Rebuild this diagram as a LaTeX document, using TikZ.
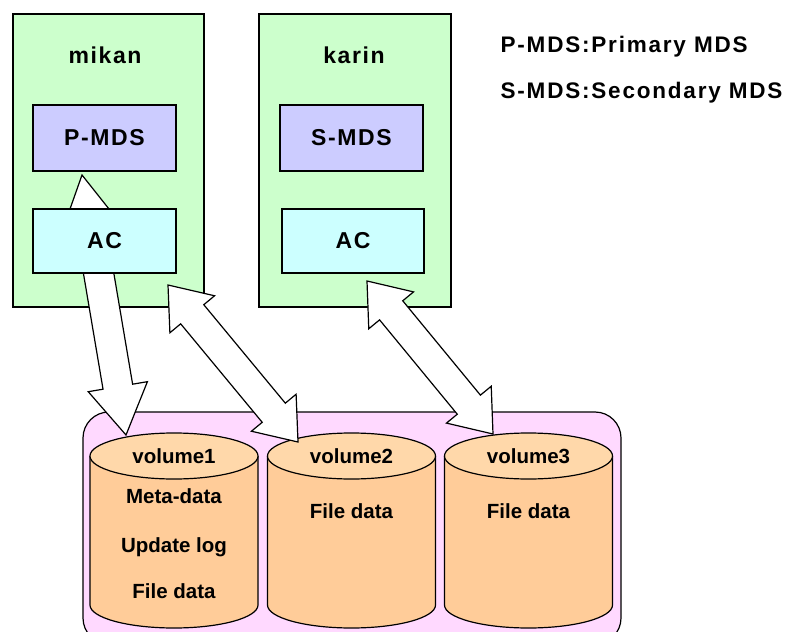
\documentclass[tikz,border=0pt]{standalone}
\usepackage{fontspec}
\setmainfont{Liberation Sans}
\newfontfamily\spacedfont[LetterSpace=7]{Liberation Sans}
\newfontfamily\legendfont[LetterSpace=8]{Liberation Sans}
\usetikzlibrary{calc}
\definecolor{hostgreen}{HTML}{CCFFCC}
\definecolor{mdsblue}{HTML}{CCCCFF}
\definecolor{accyan}{HTML}{CCFFFF}
\definecolor{poolpink}{HTML}{FFD9FF}
\definecolor{cylbodycol}{HTML}{FFCC99}
\definecolor{cyltopcol}{HTML}{FFD8AA}

\newcommand\volcyl[2]{%
  \fill[cylbodycol] (#2-84,456) -- (#2-84,605) arc[start angle=180,end angle=360,x radius=84bp,y radius=23bp] -- (#2+84,456) -- cycle;
  \draw (#2-84,456) -- (#2-84,605) arc[start angle=180,end angle=360,x radius=84bp,y radius=23bp] -- (#2+84,456);
  \filldraw[fill=cyltopcol] (#2,456) ellipse[x radius=84bp,y radius=23bp];
  \coordinate (#1) at (#2,456);}

\newcommand\dblarrow[2]{%
  \draw[blockarr] (#1)
  -- ($(#1)!38bp!(#2)!29bp!90:(#2)$)
  -- ($(#1)!38bp!(#2)!15bp!90:(#2)$)
  -- ($(#2)!38bp!(#1)!15bp!-90:(#1)$)
  -- ($(#2)!38bp!(#1)!29bp!-90:(#1)$)
  -- (#2)
  -- ($(#2)!38bp!(#1)!29bp!90:(#1)$)
  -- ($(#2)!38bp!(#1)!15bp!90:(#1)$)
  -- ($(#1)!38bp!(#2)!15bp!-90:(#2)$)
  -- ($(#1)!38bp!(#2)!29bp!-90:(#2)$)
  -- cycle;}

\newcommand\sglarrow[2]{%
  \draw[blockarr] ($(#1)!15bp!90:(#2)$)
  -- ($(#2)!49bp!(#1)!15bp!-90:(#1)$)
  -- ($(#2)!49bp!(#1)!30bp!-90:(#1)$)
  -- (#2)
  -- ($(#2)!49bp!(#1)!30bp!90:(#1)$)
  -- ($(#2)!49bp!(#1)!15bp!90:(#1)$)
  -- ($(#1)!15bp!-90:(#2)$)
  -- cycle;}

\begin{document}
\begin{tikzpicture}[x=1bp,y=-1bp,line width=1.2bp,
  hostbox/.style={draw=black,fill=hostgreen,inner sep=0pt,outer sep=0pt,minimum height=293bp,anchor=north west},
  mdsbox/.style={draw=black,fill=mdsblue,inner sep=0pt,outer sep=0pt,minimum width=143bp,minimum height=66bp,anchor=north west},
  acbox/.style={draw=black,fill=accyan,inner sep=0pt,outer sep=0pt,minimum width=143bp,minimum height=64bp,anchor=north west},
  poolbox/.style={draw=black,fill=poolpink,rounded corners=26bp,inner sep=0pt,outer sep=0pt,minimum width=538bp,minimum height=232bp,anchor=north west},
  boxlbl/.style={inner sep=0pt,font=\spacedfont\bfseries\fontsize{23bp}{27bp}\selectfont},
  cyllbl/.style={inner sep=0pt,anchor=base,font=\bfseries\fontsize{20.5bp}{24bp}\selectfont},
  legendlbl/.style={inner sep=0pt,anchor=base west,font=\legendfont\bfseries\fontsize{22.5bp}{26bp}\selectfont},
  blockarr/.style={draw=black,fill=white,line join=miter}]
\clip (0,0) rectangle (800,632);
\useasboundingbox (0,0) rectangle (800,632);

% storage pool
\node[poolbox] (pool) at (83,412) {};

% volumes
\volcyl{v1}{174}
\volcyl{v2}{351.5}
\volcyl{v3}{528.5}
\node[cyllbl] (v1name) at (174,463) {volume1};
\node[cyllbl] (v1meta) at (174,503) {Meta-data};
\node[cyllbl] (v1log) at (174,552) {Update log};
\node[cyllbl] (v1file) at (174,598) {File data};
\node[cyllbl] (v2name) at (351.5,463) {volume2};
\node[cyllbl] (v2file) at (351.5,518) {File data};
\node[cyllbl] (v3name) at (528.5,463) {volume3};
\node[cyllbl] (v3file) at (528.5,518) {File data};

% hosts
\node[hostbox,minimum width=191bp] (mikan) at (13,14) {};
\node[hostbox,minimum width=192bp] (karin) at (259,14) {};
\node[boxlbl] (mikanlbl) at (105,55) {mikan};
\node[boxlbl] (karinlbl) at (354,55) {karin};

% arrow AC -> P-MDS (head only visible) and AC -> volume1
\coordinate (pmtip) at (82,175);
\draw[blockarr] (70,209) -- (pmtip) -- (109,209) -- cycle;
\coordinate (a1tail) at (93.5,243);
\coordinate (a1tip) at (126,435);
\sglarrow{a1tail}{a1tip}

% inner boxes
\node[mdsbox] (pmds) at (33,105) {};
\node[boxlbl] at (pmds.center) {P-MDS};
\node[acbox] (ac1) at (33,209) {};
\node[boxlbl] at (ac1.center) {AC};
\node[mdsbox] (smds) at (280,105) {};
\node[boxlbl] at (smds.center) {S-MDS};
\node[acbox,minimum width=142bp] (ac2) at (282,209) {};
\node[boxlbl] at (ac2.center) {AC};

% double arrows
\coordinate (a2a) at (168,285);
\coordinate (a2b) at (298,442);
\dblarrow{a2a}{a2b}
\coordinate (a3a) at (367,281);
\coordinate (a3b) at (493,434);
\dblarrow{a3a}{a3b}

% legend
\node[legendlbl] (leg1) at (500,53) {P-MDS:Primary MDS};
\node[legendlbl] (leg2) at (500,99) {S-MDS:Secondary MDS};
\end{tikzpicture}
\end{document}
